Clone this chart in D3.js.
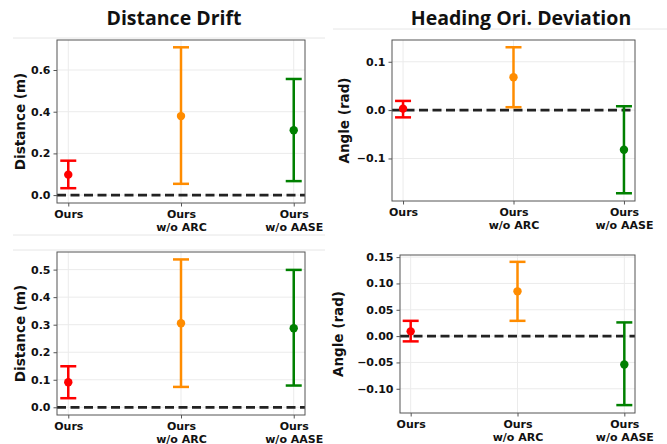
<!DOCTYPE html>
<html>
<head>
<meta charset="utf-8">
<script src="https://cdn.jsdelivr.net/npm/d3@7"></script>
<style>
  body { margin: 0; background: #fff; }
  svg { display: block; }
  .tick text { font-family: "DejaVu Sans", sans-serif; font-weight: bold; font-size: 11px; fill: #111; }
</style>
</head>
<body>
<div id="chart"></div>
<script>
// categories shared by all four panels
const categories = ["Ours", "Ours|w/o ARC", "Ours|w/o AASE"];
const colors = ["#ff0000", "#ff8c00", "#008000"];

// top-left: distance drift
const distTopMean = [0.098, 0.379, 0.311];
const distTopLow  = [0.033, 0.054, 0.067];
const distTopHigh = [0.165, 0.709, 0.557];
const distTopTicks = [0.0, 0.2, 0.4, 0.6];

// top-right: heading deviation
const angTopMean = [0.003, 0.068, -0.082];
const angTopLow  = [-0.015, 0.006, -0.172];
const angTopHigh = [0.019, 0.130, 0.008];
const angTopTicks = [-0.1, 0.0, 0.1];

// bottom-left: distance drift
const distBotMean = [0.091, 0.305, 0.287];
const distBotLow  = [0.033, 0.074, 0.079];
const distBotHigh = [0.149, 0.537, 0.499];
const distBotTicks = [0.0, 0.1, 0.2, 0.3, 0.4, 0.5];

// bottom-right: heading deviation
const angBotMean = [0.009, 0.085, -0.054];
const angBotLow  = [-0.010, 0.029, -0.131];
const angBotHigh = [0.029, 0.141, 0.026];
const angBotTicks = [-0.10, -0.05, 0.00, 0.05, 0.10, 0.15];

const W = 667, H = 444;
const svg = d3.select("#chart").append("svg")
  .attr("width", W).attr("height", H);

// faint slide separator lines
[[13, 325, 38], [333, 667, 29], [13, 325, 235], [13, 325, 250]].forEach(l => {
  svg.append("line")
    .attr("x1", l[0]).attr("x2", l[1]).attr("y1", l[2]).attr("y2", l[2])
    .attr("stroke", "#e6e6e6").attr("stroke-width", 1);
});

// panel titles
svg.append("text").attr("x", 174).attr("y", 25)
  .attr("text-anchor", "middle")
  .style("font-family", "'Open Sans', sans-serif").style("font-weight", "bold").style("font-size", "19.5px")
  .style("fill", "#111")
  .text("Distance Drift");
svg.append("text").attr("x", 521).attr("y", 25)
  .attr("text-anchor", "middle")
  .style("font-family", "'Open Sans', sans-serif").style("font-weight", "bold").style("font-size", "19.5px")
  .style("fill", "#111")
  .text("Heading Ori. Deviation");

function panel(opt) {
  const g = svg.append("g");
  const x = d3.scaleLinear().domain([-0.1, 2.1]).range([opt.left, opt.right]);
  const y = d3.scaleLinear().domain(opt.domain).range([opt.bottom, opt.top]);

  // grid
  g.selectAll(".hg").data(opt.ticks).enter().append("line")
    .attr("x1", opt.left).attr("x2", opt.right)
    .attr("y1", d => y(d)).attr("y2", d => y(d))
    .attr("stroke", "#ebebeb").attr("stroke-width", 1);
  g.selectAll(".vg").data(categories).enter().append("line")
    .attr("x1", (d, i) => x(i)).attr("x2", (d, i) => x(i))
    .attr("y1", opt.top).attr("y2", opt.bottom)
    .attr("stroke", "#ebebeb").attr("stroke-width", 1);

  // zero reference line
  g.append("line")
    .attr("x1", opt.left).attr("x2", opt.right)
    .attr("y1", y(0)).attr("y2", y(0))
    .attr("stroke", "#222").attr("stroke-width", 2.8)
    .attr("stroke-dasharray", "9,4.5");

  // error bars
  const rows = opt.mean.map((m, i) => ({ i, m, lo: opt.low[i], hi: opt.high[i] }));
  const eb = g.selectAll(".eb").data(rows).enter().append("g")
    .attr("stroke", d => colors[d.i]).attr("fill", d => colors[d.i]);
  eb.append("line")
    .attr("x1", d => x(d.i)).attr("x2", d => x(d.i))
    .attr("y1", d => y(d.lo)).attr("y2", d => y(d.hi))
    .attr("stroke-width", 2.5);
  eb.append("line")
    .attr("x1", d => x(d.i) - 8).attr("x2", d => x(d.i) + 8)
    .attr("y1", d => y(d.lo)).attr("y2", d => y(d.lo))
    .attr("stroke-width", 2.5);
  eb.append("line")
    .attr("x1", d => x(d.i) - 8).attr("x2", d => x(d.i) + 8)
    .attr("y1", d => y(d.hi)).attr("y2", d => y(d.hi))
    .attr("stroke-width", 2.5);
  eb.append("circle")
    .attr("cx", d => x(d.i)).attr("cy", d => y(d.m))
    .attr("r", 4.2).attr("stroke", "none");

  // frame
  g.append("rect")
    .attr("x", opt.left).attr("y", opt.top)
    .attr("width", opt.right - opt.left).attr("height", opt.bottom - opt.top)
    .attr("fill", "none").attr("stroke", "#555").attr("stroke-width", 1);

  // axes
  const yAxis = d3.axisLeft(y).tickValues(opt.ticks).tickSize(3.5).tickPadding(3)
    .tickFormat(d => d3.format(opt.fmt)(d).replace("-", "\u2212"));
  const ya = g.append("g").attr("transform", `translate(${opt.left},0)`).call(yAxis);
  ya.select(".domain").remove();
  ya.selectAll(".tick line").attr("stroke", "#555");

  const xAxis = d3.axisBottom(x).tickValues([0, 1, 2]).tickSize(3.5).tickFormat("");
  const xa = g.append("g").attr("transform", `translate(0,${opt.bottom})`).call(xAxis);
  xa.select(".domain").remove();
  xa.selectAll(".tick line").attr("stroke", "#555");
  xa.selectAll(".tick").each(function (d) {
    const lines = categories[d].split("|");
    const t = d3.select(this).append("text")
      .attr("y", 15).attr("text-anchor", "middle");
    lines.forEach((s, k) => {
      t.append("tspan").attr("x", 0).attr("dy", k === 0 ? 0 : 12.5).text(s);
    });
  });

  // y label
  svg.append("text")
    .attr("transform", `translate(${opt.labelX},${(opt.top + opt.bottom) / 2}) rotate(-90)`)
    .attr("text-anchor", "middle")
    .style("font-family", "'DejaVu Sans', sans-serif").style("font-weight", "bold").style("font-size", "13.5px")
    .style("fill", "#111")
    .text(opt.label);
}

panel({ left: 57, right: 305, top: 40, bottom: 203, domain: [-0.038, 0.744],
  ticks: distTopTicks, fmt: ".1f", mean: distTopMean, low: distTopLow, high: distTopHigh,
  label: "Distance (m)", labelX: 25 });
panel({ left: 392, right: 635, top: 40, bottom: 201, domain: [-0.188, 0.145],
  ticks: angTopTicks, fmt: ".1f", mean: angTopMean, low: angTopLow, high: angTopHigh,
  label: "Angle (rad)", labelX: 349 });
panel({ left: 57, right: 305, top: 252, bottom: 415, domain: [-0.028, 0.564],
  ticks: distBotTicks, fmt: ".1f", mean: distBotMean, low: distBotLow, high: distBotHigh,
  label: "Distance (m)", labelX: 25 });
panel({ left: 400, right: 635, top: 255, bottom: 413, domain: [-0.146, 0.154],
  ticks: angBotTicks, fmt: ".2f", mean: angBotMean, low: angBotLow, high: angBotHigh,
  label: "Angle (rad)", labelX: 343 });
</script>
</body>
</html>
